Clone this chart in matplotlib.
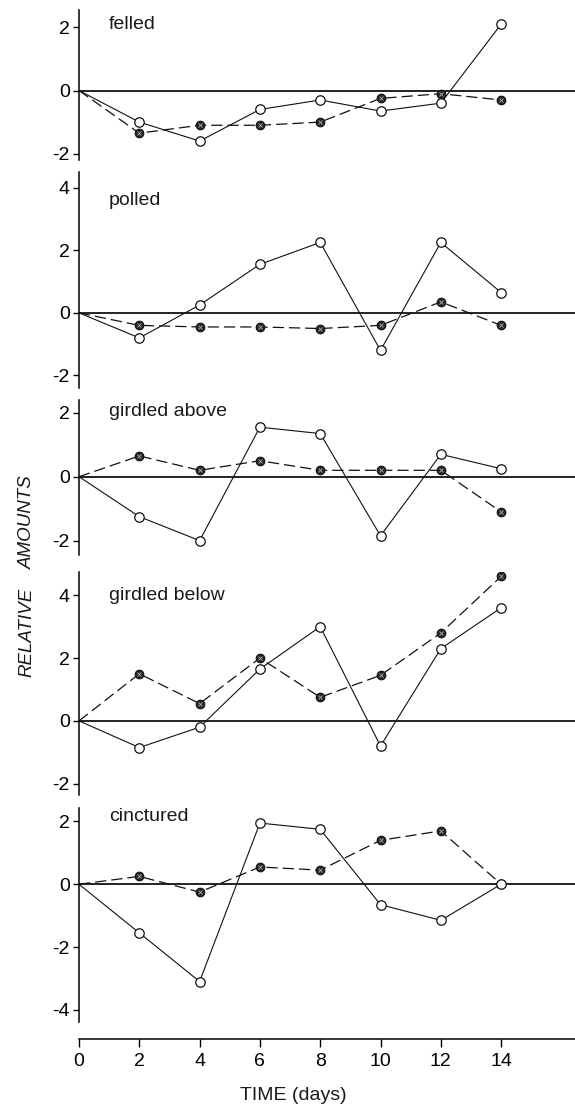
import matplotlib
matplotlib.use("Agg")
import matplotlib.pyplot as plt

plt.rcParams['axes.unicode_minus'] = False
plt.rcParams['font.family'] = ['Liberation Sans', 'DejaVu Sans']

NARROW = ['Liberation Sans Narrow', 'Liberation Sans', 'DejaVu Sans']

# sampling days (0 is the common starting point)
days = [0, 2, 4, 6, 8, 10, 12, 14]

panel_names = ['felled', 'polled', 'girdled above', 'girdled below', 'cinctured']

felled_open = [0, -1.0, -1.6, -0.6, -0.3, -0.65, -0.4, 2.1]
felled_filled = [0, -1.35, -1.1, -1.1, -1.0, -0.25, -0.1, -0.3]

polled_open = [0, -0.8, 0.25, 1.55, 2.25, -1.2, 2.25, 0.65]
polled_filled = [0, -0.4, -0.45, -0.45, -0.5, -0.4, 0.35, -0.4]

above_open = [0, -1.25, -2.0, 1.55, 1.35, -1.85, 0.7, 0.25]
above_filled = [0, 0.65, 0.2, 0.5, 0.2, 0.2, 0.2, -1.1]

below_open = [0, -0.85, -0.2, 1.65, 3.0, -0.8, 2.3, 3.6]
below_filled = [0, 1.5, 0.55, 2.0, 0.75, 1.45, 2.8, 4.6]

cinct_open = [0, -1.55, -3.1, 1.95, 1.75, -0.65, -1.15, 0]
cinct_filled = [0, 0.25, -0.25, 0.55, 0.45, 1.4, 1.7, 0]

open_series = [felled_open, polled_open, above_open, below_open, cinct_open]
filled_series = [felled_filled, polled_filled, above_filled, below_filled, cinct_filled]

yticks = [[-2, 0, 2], [-2, 0, 2, 4], [-2, 0, 2], [-2, 0, 2, 4], [-4, -2, 0, 2]]
ylims = [(-2.2, 2.55), (-2.4, 4.5), (-2.45, 2.4), (-2.36, 4.74), (-4.39, 2.43)]
label_y = [2.1, 3.6, 2.05, 4.0, 2.15]

# panel extents in pixels (top, bottom) on a 575 x 1109 canvas
W, H = 575, 1109
panel_px = [(10, 160), (172, 388), (400, 555), (572, 795), (808, 1022)]
x0_px = 79

fig = plt.figure(figsize=(W / 100, H / 100), dpi=100)

axes = []
for i, (top, bot) in enumerate(panel_px):
    ax = fig.add_axes([x0_px / W, 1 - bot / H, (W - x0_px) / W, (bot - top) / H])
    axes.append(ax)

    ax.axhline(0, color='#111111', lw=1.3, zorder=1)

    ax.plot(days, filled_series[i], color='#111111', lw=0.9, dashes=(9, 4),
            zorder=2)
    ax.plot(days[1:], filled_series[i][1:], ls='none', marker='o', ms=6.2,
            mfc='#262626', mec='#111111', mew=0.8, zorder=3)
    ax.plot(days[1:], filled_series[i][1:], ls='none', marker='x', ms=3.4,
            mec='#b0b0b0', mew=0.6, zorder=4)

    ax.plot(days, open_series[i], color='#111111', lw=0.8, zorder=2)
    ax.plot(days[1:], open_series[i][1:], ls='none', marker='o', ms=6.8,
            mfc='white', mec='#111111', mew=0.9, zorder=5)

    ax.set_xlim(0, 16.45)
    ax.set_ylim(*ylims[i])
    ax.set_yticks(yticks[i])
    ax.tick_params(axis='y', direction='out', length=4, width=1, pad=2.5,
                   labelsize=14)
    for lab in ax.get_yticklabels():
        lab.set_family(NARROW)

    ax.spines['top'].set_visible(False)
    ax.spines['right'].set_visible(False)
    ax.spines['left'].set_linewidth(1.1)
    ax.patch.set_visible(False)

    ax.text(1.0, label_y[i], panel_names[i], fontsize=14, ha='left',
            va='center', color='#1a1a1a')

    if i < len(panel_px) - 1:
        ax.spines['bottom'].set_visible(False)
        ax.set_xticks([])
    else:
        ax.spines['bottom'].set_position(('outward', 12.5))
        ax.spines['bottom'].set_linewidth(1.1)
        ax.set_xticks(days)
        ax.tick_params(axis='x', direction='out', length=6, width=1, pad=3.5,
                       labelsize=14)
        for lab in ax.get_xticklabels():
            lab.set_family(NARROW)

fig.text(293 / W, 1 - 1096 / H, 'TIME (days)', ha='center', va='center',
         fontsize=14, color='#1a1a1a')
fig.text(27 / W, 1 - 632 / H, 'RELATIVE', rotation=90, ha='center',
         va='center', fontsize=13.5, style='italic', color='#1a1a1a')
fig.text(27 / W, 1 - 522 / H, 'AMOUNTS', rotation=90, ha='center',
         va='center', fontsize=13.5, style='italic', color='#1a1a1a',
         family=NARROW)

fig.savefig('out.png', dpi=100)
